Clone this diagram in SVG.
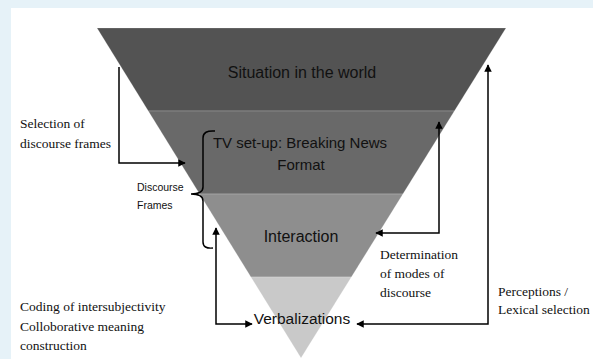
<svg xmlns="http://www.w3.org/2000/svg" width="593" height="359" viewBox="0 0 593 359">
<defs>
<style>
.band{stroke:#ffffff;stroke-opacity:0.25;stroke-width:0.8}
.lbl{font-family:"Liberation Sans",Arial,sans-serif;fill:#111111;text-anchor:middle}
.serif{font-family:"Liberation Serif","Times New Roman",serif;font-size:13.5px;fill:#111111}
.small{font-family:"Liberation Sans",Arial,sans-serif;font-size:10.5px;fill:#111111}
.conn{fill:none;stroke:#000000;stroke-width:1.5}
</style>
<marker id="ah" viewBox="0 0 10 10" refX="9" refY="5" markerWidth="5" markerHeight="5" orient="auto-start-reverse" markerUnits="strokeWidth">
<path d="M0,0 L10,5 L0,10 z" fill="#000000"/>
</marker>
</defs>
<rect x="0" y="0" width="593" height="359" fill="#e6f2f8"/>
<rect x="11" y="8" width="582" height="351" fill="#ffffff"/>

<g id="situation">
<polygon class="band" points="97,28 506,28 454.4,111 148.3,111" fill="#535353"/>
<text class="lbl" x="302" y="78" font-size="16">Situation in the world</text>
</g>
<g id="tvsetup">
<polygon class="band" points="148.3,111 454.4,111 402.9,194 199.6,194" fill="#696969"/>
<text class="lbl" x="300" y="148" font-size="15">TV set-up: Breaking News</text>
<text class="lbl" x="301" y="170" font-size="15">Format</text>
</g>
<g id="interaction">
<polygon class="band" points="199.6,194 402.9,194 351.4,277 250.9,277" fill="#8e8e8e"/>
<text class="lbl" x="301" y="242" font-size="16">Interaction</text>
</g>
<g id="verbalizations">
<polygon class="band" points="250.9,277 351.4,277 301,358" fill="#c9c9c9"/>
<text class="lbl" x="302" y="324" font-size="15.5">Verbalizations</text>
</g>

<g id="discourse-frames">
<path class="conn" d="M215,131 Q203,130 203,138 V187 Q203,194 191,194 Q203,194 203,201 V242 Q203,249 213,248"/>
<text class="small" x="137" y="191">Discourse</text>
<text class="small" x="137" y="209">Frames</text>
</g>

<g id="labels">
<text class="serif" x="20" y="128">Selection of</text>
<text class="serif" x="20" y="148">discourse frames</text>
<text class="serif" x="20" y="311">Coding of intersubjectivity</text>
<text class="serif" x="20" y="331">Colloborative meaning</text>
<text class="serif" x="20" y="350">construction</text>
<text class="serif" x="380" y="259">Determination</text>
<text class="serif" x="380" y="278">of modes of</text>
<text class="serif" x="380" y="297">discourse</text>
<text class="serif" x="498" y="296">Perceptions /</text>
<text class="serif" x="498" y="314">Lexical selection</text>
</g>

<g id="connectors">
<path class="conn" d="M119,67 V163 H185" marker-end="url(#ah)"/>
<path class="conn" d="M376,233 H439 V122" marker-start="url(#ah)" marker-end="url(#ah)"/>
<path class="conn" d="M357,324 H488 V65" marker-start="url(#ah)" marker-end="url(#ah)"/>
<path class="conn" d="M216,228 V324 H252" marker-start="url(#ah)" marker-end="url(#ah)"/>
</g>
</svg>
